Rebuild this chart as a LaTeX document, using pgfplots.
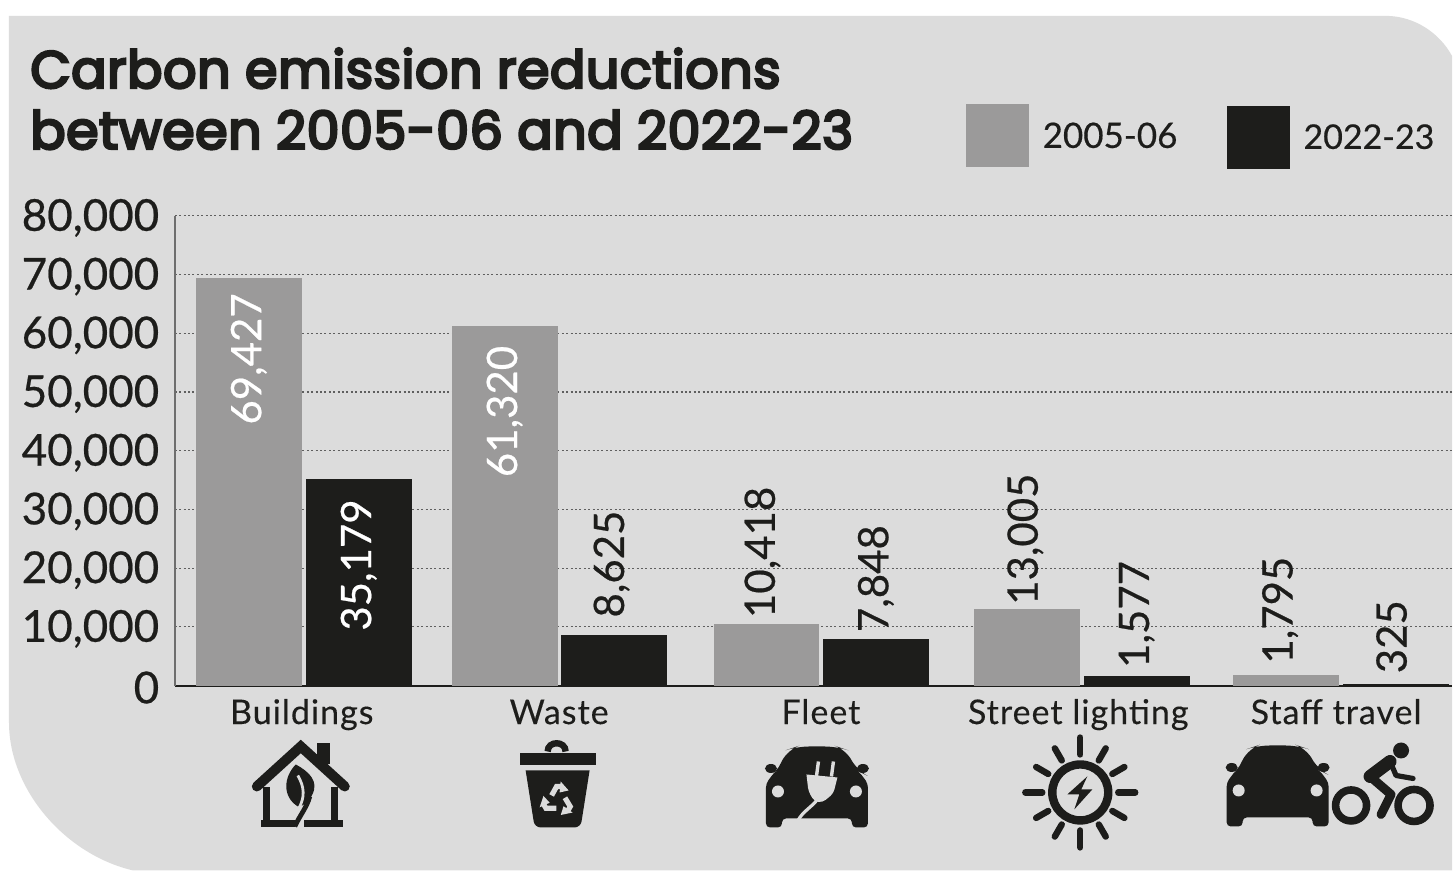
\documentclass[border=0pt]{standalone}
\usepackage{fontspec}
\usepackage{pgfplots}
\pgfplotsset{compat=1.18}
\setmainfont{Lato}
\newfontfamily\titlefont[LetterSpace=1.2,FakeBold=5]{Poppins}
\newfontfamily\bodyfont[FakeBold=0.5]{Lato}
\newfontfamily\catfont[FakeBold=0.2,LetterSpace=3]{Lato}
\definecolor{panel}{HTML}{DCDCDC}
\definecolor{ink}{HTML}{1D1D1B}
\definecolor{midgrey}{HTML}{9B9A9A}
\definecolor{gridgrey}{HTML}{5F5F5F}
\definecolor{axisgrey}{HTML}{6E6E6E}

% Front view of a car, 102 units wide, origin at the middle of the roof
\newcommand{\carbody}{%
  \fill[ink] (-51,82) [rounded corners=2] -- (-51,38) -- (-42,26) -- (-40,25)
    [rounded corners=6] -- (-29,4) -- (-20,1) -- (20,1) -- (29,4) -- (40,25)
    [rounded corners=2] -- (42,26) -- (51,38) -- (51,82) -- (35,82) -- (35,73)
    -- (-35,73) -- (-35,82) -- cycle;
  \fill[ink] (-46,23) ellipse [x radius=6, y radius=4.5];
  \fill[ink] (46,23) ellipse [x radius=6, y radius=4.5];
  \fill[panel] (-39,46) circle [radius=6];
  \fill[panel] (39,46) circle [radius=6];
}

% Rotated value label above or inside a bar
\pgfplotsset{
  barlabel/.style n args={3}{
    nodes near coords,
    every node near coord/.append style={
      font=\bodyfont\fontsize{21}{23}\selectfont, text=#1, inner sep=0pt,
      yshift=#2, xshift=#3, rotate=90}
  },
  above bar/.style={every node near coord/.append style={anchor=west}},
  inside bar/.style={every node near coord/.append style={anchor=east}},
}

\begin{document}
\begin{tikzpicture}
% Page and rounded panel behind the chart
\begin{scope}[x=0.5pt,y=-0.5pt]
  \path[use as bounding box] (0,0) rectangle (1453,871);
  \fill[white] (0,0) rectangle (1453,871);
  \fill[panel] (9,16) -- (1390,16)
    .. controls (1415,17) and (1440,32) .. (1453,56) -- (1453,871) -- (133,871)
    .. controls (65,855) and (9,790) .. (9,723) -- cycle;
  % Heading
  \node[anchor=base west, inner sep=0pt, text=ink, font=\titlefont\fontsize{26.1}{28}\selectfont]
    at (30,88) {Carbon emission reductions};
  \node[anchor=base west, inner sep=0pt, text=ink, font=\titlefont\fontsize{26.1}{28}\selectfont]
    at (30,149) {between 2005-06 and 2022-23};
  % Key
  \fill[midgrey] (967,104) rectangle (1030,167);
  \node[anchor=base west, inner sep=0pt, text=ink, font=\bodyfont\fontsize{17.5}{20}\selectfont] at (1043,148) {2005-06};
  \fill[ink] (1228,106) rectangle (1291,169);
  \node[anchor=base west, inner sep=0pt, text=ink, font=\bodyfont\fontsize{17}{20}\selectfont] at (1304,149) {2022-23};
\end{scope}

\begin{axis}[
  at={(87.5pt,-343pt)}, anchor=south west,
  scale only axis, width=639pt, height=235pt,
  xmin=175, xmax=1453, ymin=0, ymax=80000,
  axis x line=bottom, axis y line=left,
  axis line style={-},
  x axis line style={draw=ink, line width=1pt},
  y axis line style={draw=axisgrey, line width=1pt},
  tick style={draw=none},
  ytick={0,10000,...,80000},
  xtick={302,559.5,821.5,1079,1337},
  xticklabels={Buildings,Waste,Fleet,Street lighting,Staff travel},
  ymajorgrids,
  major grid style={draw=gridgrey, line width=0.6pt, dash pattern=on 1pt off 1.2pt},
  yticklabel style={font=\bodyfont\fontsize{22}{23}\selectfont, text=ink, inner sep=0pt, xshift=-5.5pt, yshift=-1pt},
  xticklabel style={font=\catfont\fontsize{17}{18}\selectfont, text=ink, anchor=base, inner sep=0pt, yshift=-15pt},
  /pgf/number format/.cd, 1000 sep={,}, assume math mode=true,
  /pgfplots/.cd,
  scaled y ticks=false,
  ybar, bar shift=0pt, bar width=106,
  clip=false,
]
% 2005-06
\addplot[fill=midgrey, draw=none, barlabel={white}{-7.5pt}{0pt}, inside bar] coordinates {(249,69427)};
\addplot[fill=midgrey, draw=none, barlabel={white}{-10pt}{0pt}, inside bar] coordinates {(505,61320)};
\addplot[fill=midgrey, draw=none, barlabel={ink}{3pt}{-2pt}, above bar] coordinates {(767,10418)};
\addplot[fill=midgrey, draw=none, barlabel={ink}{2pt}{-1pt}, above bar] coordinates {(1028,13005)};
\addplot[fill=midgrey, draw=none, barlabel={ink}{5.5pt}{-3pt}, above bar] coordinates {(1287,1795)};
% 2022-23
\addplot[fill=ink, draw=none, barlabel={white}{-10pt}{0pt}, inside bar] coordinates {(359,35179)};
\addplot[fill=ink, draw=none, barlabel={ink}{8.5pt}{-1pt}, above bar] coordinates {(614,8625)};
\addplot[fill=ink, draw=none, barlabel={ink}{3.5pt}{0pt}, above bar] coordinates {(876.5,7848)};
\addplot[fill=ink, draw=none, barlabel={ink}{4pt}{0pt}, above bar] coordinates {(1137.5,1577)};
\addplot[fill=ink, draw=none, barlabel={ink}{5pt}{-2pt}, above bar] coordinates {(1396.5,325)};
\end{axis}

% Category pictograms
\begin{scope}[x=0.5pt,y=-0.5pt]
  % House with leaf
  \fill[ink] (317,744) rectangle (330,765);
  \draw[ink, line width=5pt, line cap=round, miter limit=4] (257,787) -- (301,747) -- (345,787);
  \draw[ink, line width=3.5pt] (267,788) -- (267,824);
  \draw[ink, line width=3.5pt] (335,788) -- (335,824);
  \fill[ink] (261,821) rectangle (295,828);
  \fill[ink] (304,821) rectangle (343,828);
  \fill[ink] (296,765) .. controls (309,772) and (320,782) .. (312,796)
    .. controls (309,803) and (303,807) .. (298,807)
    .. controls (282,797) and (284,777) .. (296,765) -- cycle;
  \draw[panel, line width=1.4pt] (298,776) .. controls (305,788) and (305,798) .. (299,809);
  \draw[ink, line width=2.4pt] (310,797) .. controls (307,808) and (300,816) .. (295,827);

  % Recycling bin
  \draw[ink, line width=3.2pt] (548,752) .. controls (548,741) and (566,741) .. (566,752);
  \fill[ink] (520,754) rectangle (596,766);
  \fill[ink] (526,771) -- (590,771) [rounded corners=3] -- (581,828) -- (535,828) [sharp corners] -- cycle;
  \begin{scope}[shift={(558,801)}]
    \foreach \r in {0,120,240}{
      \begin{scope}[rotate=\r]
        \draw[panel, line width=2.6pt] (-6,-5) -- (-1,-14) -- (5,-14);
        \fill[panel] (3,-19) -- (11,-10) -- (2,-8) -- cycle;
      \end{scope}
    }
  \end{scope}

  % Electric car with plug
  \begin{scope}[shift={(817.5,746)}]
    \carbody
  \end{scope}
  \draw[panel, line width=1.7pt] (819,762) -- (817,777);
  \draw[panel, line width=1.7pt] (834,762) -- (832,777);
  \fill[panel] (807,775) -- (838,778) [rounded corners=2] -- (834,794) -- (823,803) -- (815,802) -- (809,792) [sharp corners] -- cycle;
  \draw[panel, line width=1.6pt] (818,800) .. controls (812,808) and (803,812) .. (798,822);

  % Sun with lightning bolt
  \draw[ink, line width=4.2pt] (1081,793) circle [radius=28];
  \foreach \a in {0,90,180,270}{
    \draw[ink, line width=3.2pt, line cap=round] ({1081+38*cos(\a)},{793+38*sin(\a)}) -- ({1081+55*cos(\a)},{793+55*sin(\a)});
  }
  \foreach \a in {30,60,120,150,210,240,300,330}{
    \draw[ink, line width=3.2pt, line cap=round] ({1081+37*cos(\a)},{793+37*sin(\a)}) -- ({1081+51*cos(\a)},{793+51*sin(\a)});
  }
  \fill[ink] (1088,777) -- (1068,795) -- (1080,795) -- (1075,810) -- (1093,790) -- (1082,790) -- cycle;

  % Car and cyclist
  \begin{scope}[shift={(1278.5,745)}]
    \carbody
  \end{scope}
  \draw[ink, line width=3.8pt] (1352,806) circle [radius=15.5];
  \draw[ink, line width=3.8pt] (1415,806) circle [radius=16];
  \fill[ink] (1402,751) circle [radius=8];
  \draw[ink, line width=6.5pt, line cap=round] (1391,762) -- (1371,777);
  \draw[ink, line width=2.6pt, line cap=round, line join=round] (1391,762) -- (1397,776) -- (1414,779);
  \draw[ink, line width=4.5pt, line cap=round, line join=round] (1371,777) -- (1392,795) -- (1382,815);
\end{scope}
\end{tikzpicture}
\end{document}
